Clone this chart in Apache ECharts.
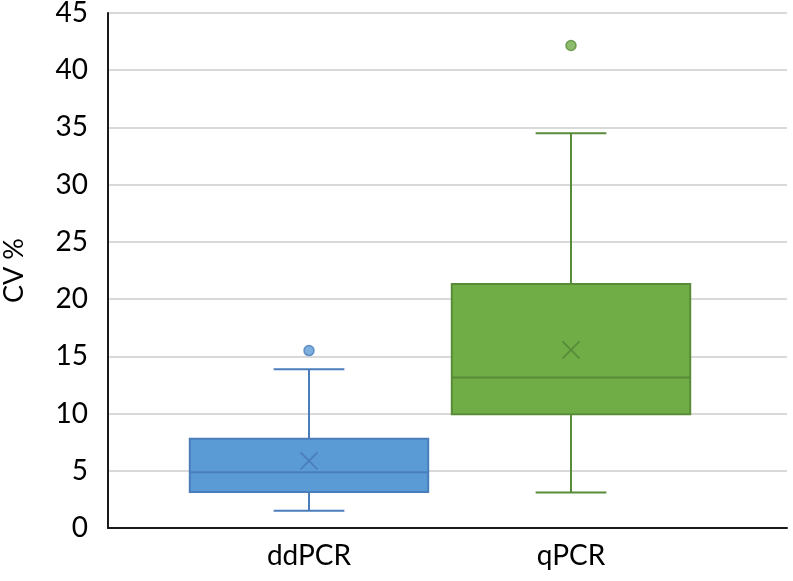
<!DOCTYPE html>
<html>
<head>
<meta charset="utf-8">
<script src="https://cdn.jsdelivr.net/npm/echarts@6/dist/echarts.min.js"></script>
<style>
  html, body { margin: 0; padding: 0; background: #fff; }
  #chart { width: 793px; height: 581px; }
</style>
</head>
<body>
<div id="chart"></div>
<script>
// box plot statistics
const categories = ['ddPCR', 'qPCR'];
const whiskerLow = [1.5, 3.1];
const q1 = [3.15, 9.95];
const median = [4.87, 13.14];
const q3 = [7.8, 21.33];
const whiskerHigh = [13.87, 34.5];
const means = [5.86, 15.56];
const outlierCategory = ['ddPCR', 'qPCR'];
const outlierValues = [15.5, 42.16];
const yTicks = [0, 5, 10, 15, 20, 25, 30, 35, 40, 45];

const fills = ['#5B9BD5', '#70AD47'];
const strokes = ['#4A7EBB', '#588C38'];
const fontFamily = 'Lato, "Open Sans", sans-serif';

const boxData = categories.map((c, i) =>
  [i, whiskerLow[i], q1[i], median[i], q3[i], whiskerHigh[i], means[i]]);
const outlierData = outlierCategory.map((c, i) => {
  const k = categories.indexOf(c);
  return {
    value: [k, outlierValues[i]],
    itemStyle: { color: fills[k], borderColor: strokes[k], borderWidth: 1.5 }
  };
});

function renderBox(params, api) {
  const idx = api.value(0);
  const band = api.size([1, 0])[0];
  const boxW = band * 0.91;
  const capW = band * 0.27;
  const lo = api.coord([idx, api.value(1)]);
  const b1 = api.coord([idx, api.value(2)]);
  const md = api.coord([idx, api.value(3)]);
  const b3 = api.coord([idx, api.value(4)]);
  const hi = api.coord([idx, api.value(5)]);
  const mn = api.coord([idx, api.value(6)]);
  const x = lo[0];
  const stroke = strokes[idx];
  const ls = { stroke: stroke, lineWidth: 2 };
  const m = 8.5;
  return {
    type: 'group',
    children: [
      { type: 'line', shape: { x1: x, y1: lo[1], x2: x, y2: b1[1] }, style: ls },
      { type: 'line', shape: { x1: x, y1: b3[1], x2: x, y2: hi[1] }, style: ls },
      { type: 'line', shape: { x1: x - capW / 2, y1: lo[1], x2: x + capW / 2, y2: lo[1] }, style: ls },
      { type: 'line', shape: { x1: x - capW / 2, y1: hi[1], x2: x + capW / 2, y2: hi[1] }, style: ls },
      {
        type: 'rect',
        shape: { x: x - boxW / 2, y: b3[1], width: boxW, height: b1[1] - b3[1] },
        style: { fill: fills[idx], stroke: stroke, lineWidth: 2 }
      },
      { type: 'line', shape: { x1: x - boxW / 2, y1: md[1], x2: x + boxW / 2, y2: md[1] }, style: ls },
      { type: 'line', shape: { x1: x - m, y1: mn[1] - m, x2: x + m, y2: mn[1] + m }, style: { stroke: stroke, lineWidth: 1.8 } },
      { type: 'line', shape: { x1: x - m, y1: mn[1] + m, x2: x + m, y2: mn[1] - m }, style: { stroke: stroke, lineWidth: 1.8 } }
    ]
  };
}

const chart = echarts.init(document.getElementById('chart'));
chart.setOption({
  animation: false,
  backgroundColor: '#fff',
  grid: [
    { left: 108, right: 6, top: 13, bottom: 53, containLabel: false, outerBoundsMode: 'none' },
    { left: 178, right: 91, top: 13, bottom: 53, containLabel: false, outerBoundsMode: 'none' }
  ],
  xAxis: [
    {
      gridIndex: 0, type: 'value', min: 0, max: 1,
      axisLine: { show: true, lineStyle: { color: '#1a1a1a', width: 2 } },
      axisTick: { show: false }, axisLabel: { show: false }, splitLine: { show: false }
    },
    {
      gridIndex: 1, type: 'category', data: categories,
      axisLine: { show: false }, axisTick: { show: false },
      axisLabel: { color: '#000', fontSize: 28, fontFamily: fontFamily, margin: 14 }
    }
  ],
  yAxis: [
    {
      gridIndex: 0, type: 'value', min: yTicks[0], max: yTicks[yTicks.length - 1], interval: 5,
      name: 'CV %', nameLocation: 'middle', nameGap: 80, nameRotate: 90,
      nameTextStyle: { color: '#000', fontSize: 27, fontFamily: fontFamily },
      axisLine: { show: true, lineStyle: { color: '#1a1a1a', width: 2 } },
      axisTick: { show: false },
      axisLabel: { color: '#000', fontSize: 28, fontFamily: fontFamily, margin: 20 },
      splitLine: { show: true, lineStyle: { color: '#d9d9d9', width: 2 } }
    },
    {
      gridIndex: 1, type: 'value', min: yTicks[0], max: yTicks[yTicks.length - 1], show: false
    }
  ],
  series: [
    {
      type: 'custom', xAxisIndex: 1, yAxisIndex: 1,
      renderItem: renderBox,
      encode: { x: 0, y: [1, 2, 3, 4, 5, 6] },
      data: boxData
    },
    {
      type: 'scatter', xAxisIndex: 1, yAxisIndex: 1,
      symbolSize: 10,
      data: outlierData
    }
  ]
});
</script>
</body>
</html>
